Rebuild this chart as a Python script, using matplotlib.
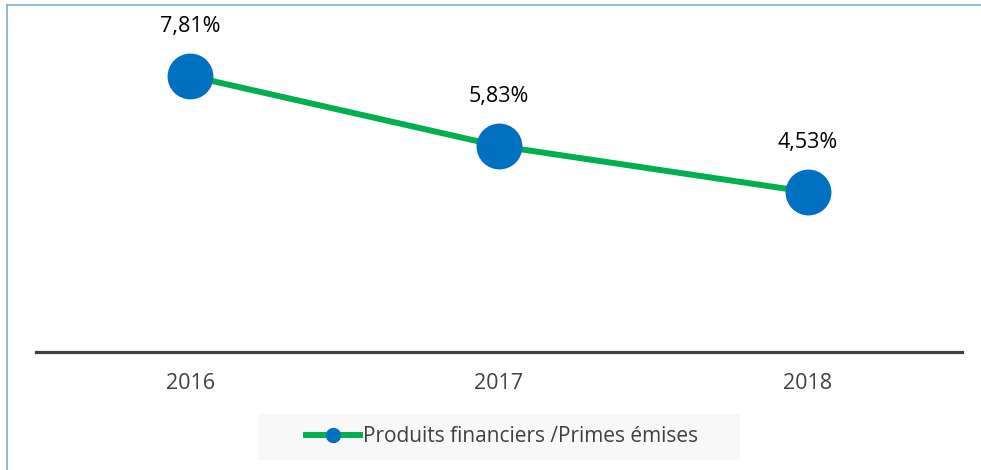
import matplotlib
matplotlib.use("Agg")
import matplotlib.pyplot as plt
from matplotlib.lines import Line2D
from matplotlib.patches import Rectangle

years = ["2016", "2017", "2018"]
values = [7.81, 5.83, 4.53]
labels = ["7,81%", "5,83%", "4,53%"]
series_name = "Produits financiers /Primes émises"

W, H = 981, 470
fig = plt.figure(figsize=(W / 100, H / 100), dpi=100)
plt.rcParams['font.family'] = ['Open Sans', 'DejaVu Sans']

def fx(px):
    return px / W

def fy(py):
    return 1 - py / H

ax_left, ax_right = 36, 962
ax_bottom, ax_top = 352, 34
ax = fig.add_axes([fx(ax_left), fy(ax_bottom), fx(ax_right - ax_left), (ax_bottom - ax_top) / H])
ax.set_xlim(-0.5, len(years) - 0.5)
ax.set_ylim(0, 9)

xs = list(range(len(years)))
ax.plot(xs, values, color="#00B050", lw=4.3, marker="o", markersize=32,
        markerfacecolor="#0070C0", markeredgecolor="#0070C0", solid_capstyle="butt", zorder=3,
        clip_on=False)
for x, v, t in zip(xs, values, labels):
    ax.annotate(t, (x, v), xytext=(0, 35.5), textcoords="offset points", ha="center", va="center",
                fontsize=15.5, color="#000000")

for s in ["top", "right", "left"]:
    ax.spines[s].set_visible(False)
ax.spines["bottom"].set_color("#404040")
ax.spines["bottom"].set_linewidth(2.3)
ax.set_yticks([])
ax.set_xticks(xs)
ax.set_xticklabels(years, fontsize=15.5, color="#404040")
ax.tick_params(axis="x", length=0, pad=15)

# chart border (left and top)
fig.add_artist(Line2D([fx(7), fx(7)], [fy(5), 0], color="#7DAFD6", lw=1.2))
fig.add_artist(Line2D([fx(7), 1], [fy(5), fy(5)], color="#7DAFD6", lw=1.2))

# legend background
fig.add_artist(Rectangle((fx(258), fy(460)), fx(740 - 258), (460 - 414) / H,
                         facecolor="#F8F8F8", edgecolor="none", zorder=0))
handle = Line2D([0], [0], color="#00B050", lw=4.3, marker="o", markersize=10,
                markerfacecolor="#0070C0", markeredgecolor="#0070C0")
leg = fig.legend([handle], [series_name], loc="center", bbox_to_anchor=(fx(502), fy(437)),
                 frameon=False, fontsize=15, handlelength=2.6, handletextpad=0.15,
                 labelcolor="#404040")

fig.savefig("out.png", dpi=100)
